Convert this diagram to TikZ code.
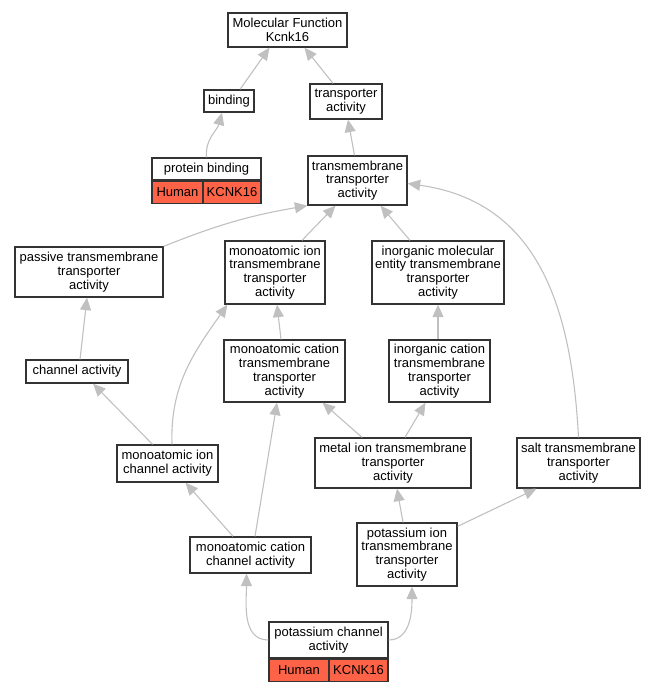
\documentclass[tikz,border=0pt]{standalone}
\usepackage{fontspec}
\setmainfont{Liberation Sans}
\usetikzlibrary{arrows.meta}
\usetikzlibrary{positioning}

\definecolor{goedge}{HTML}{C0C0C0}
\definecolor{gohit}{HTML}{FF6347}

\begin{document}
\begin{tikzpicture}[x=1pt, y=-1pt,
    term/.style={draw=black!80, line width=1.3pt, fill=white, inner sep=0pt,
      align=center, font=\fontsize{13}{13.8}\selectfont},
    hit/.style={term, fill=gohit, minimum height=22pt},
    isa/.style={draw=goedge, line width=1.1pt, -{Triangle[length=12.5pt, width=11pt]}}]
      \useasboundingbox (0,0) rectangle (659,691);

      \node[term, minimum width=119, minimum height=34] (mf) at (287.5,30) {Molecular Function\\Kcnk16};
      \node[term, minimum width=50, minimum height=22] (bind) at (229,101) {binding};
      \node[term, minimum width=72, minimum height=35] (trans) at (346,101.5) {transporter\\activity};
      \node[term, minimum width=109, minimum height=22] (pb) at (206.5,169) {protein binding};
      \node[hit, minimum width=51, anchor=north west] (pbsp) at (pb.south west) {Human};
      \node[hit, minimum width=58, anchor=north east] (pbgn) at (pb.south east) {KCNK16};
      \node[term, minimum width=99, minimum height=49] (tmt) at (357.5,180.5) {transmembrane\\transporter\\activity};
      \node[term, minimum width=148, minimum height=50] (pass) at (89,272) {passive transmembrane\\transporter\\activity};
      \node[term, minimum width=100, minimum height=63] (miTM) at (275,272.5) {monoatomic ion\\transmembrane\\transporter\\activity};
      \node[term, minimum width=132, minimum height=63] (inorg) at (438,272.5) {inorganic molecular\\entity transmembrane\\transporter\\activity};
      \node[term, minimum width=102, minimum height=23] (chan) at (77,371.5) {channel activity};
      \node[term, minimum width=121, minimum height=62] (mcTM) at (284.5,371) {monoatomic cation\\transmembrane\\transporter\\activity};
      \node[term, minimum width=101, minimum height=62] (icTM) at (439.5,371) {inorganic cation\\transmembrane\\transporter\\activity};
      \node[term, minimum width=101, minimum height=37] (mic) at (167.5,463.5) {monoatomic ion\\channel activity};
      \node[term, minimum width=156, minimum height=50] (metal) at (393,463) {metal ion transmembrane\\transporter\\activity};
      \node[term, minimum width=123, minimum height=50] (salt) at (578.5,463) {salt transmembrane\\transporter\\activity};
      \node[term, minimum width=121, minimum height=36] (mcc) at (250.5,555) {monoatomic cation\\channel activity};
      \node[term, minimum width=100, minimum height=63] (kTM) at (407,554.5) {potassium ion\\transmembrane\\transporter\\activity};
      \node[term, minimum width=119, minimum height=36] (kc) at (328.5,640) {potassium channel\\activity};
      \node[hit, minimum width=60, anchor=north west] (kcsp) at (kc.south west) {Human};
      \node[hit, minimum width=59, anchor=north east] (kcgn) at (kc.south east) {KCNK16};

      \draw[isa] ([xshift=11pt]bind.north) -- ([xshift=-18pt]mf.south);
      \draw[isa] ([xshift=-13pt]trans.north) -- ([xshift=17pt]mf.south);
      \draw[isa] (pb.north) to[out=95, in=-105] ([xshift=-7pt]bind.south);
      \draw[isa] ([xshift=-3pt]tmt.north) -- ([xshift=2pt]trans.south);
      \draw[isa] (pass.north east) to[bend left=6] (tmt.south west);
      \draw[isa] ([xshift=27pt]miTM.north) -- ([xshift=-22pt]tmt.south);
      \draw[isa] ([xshift=-28pt]inorg.north) -- ([xshift=23pt]tmt.south);
      \draw[isa] (salt.north) to[out=93, in=-8, looseness=1.1] ([yshift=-3pt]tmt.east);
      \draw[isa] ([xshift=3pt]chan.north) -- ([xshift=-2pt]pass.south);
      \draw[isa] ([xshift=-3.5pt]mcTM.north) -- ([xshift=2pt]miTM.south);
      \draw[isa] ([xshift=-1.5pt]icTM.north) -- (inorg.south);
      \draw[isa] ([xshift=-15pt]mic.north) -- ([xshift=16pt]chan.south);
      \draw[isa] ([xshift=4.5pt]mic.north) to[out=92, in=-125] ([xshift=3pt]miTM.south west);
      \draw[isa] ([xshift=-31pt]metal.north) -- ([xshift=38pt]mcTM.south);
      \draw[isa] ([xshift=12pt]metal.north) -- ([xshift=-14pt]icTM.south);
      \draw[isa] ([xshift=-17.5pt]mcc.north) -- ([xshift=18pt]mic.south);
      \draw[isa] ([xshift=4.5pt]mcc.north) -- ([xshift=-7.5pt]mcTM.south);
      \draw[isa] ([xshift=-4pt]kTM.north) -- ([xshift=4pt]metal.south);
      \draw[isa] ([yshift=-4pt]kTM.north east) -- ([xshift=-42pt]salt.south);
      \draw[isa] (kc.west) to[out=180, in=-90] ([xshift=-4pt]mcc.south);
      \draw[isa] (kc.east) to[out=0, in=-90] ([xshift=5pt]kTM.south);
\end{tikzpicture}
\end{document}
